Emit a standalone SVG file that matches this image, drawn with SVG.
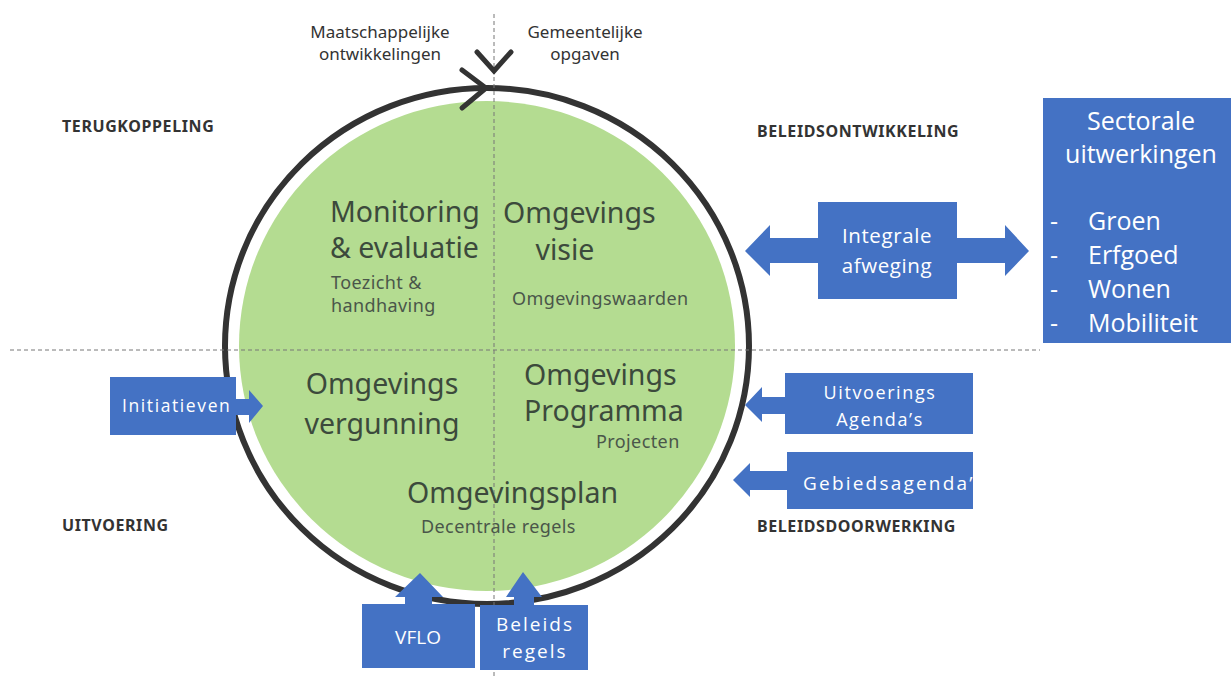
<svg xmlns="http://www.w3.org/2000/svg" width="1231" height="677" viewBox="0 0 1231 677">
<style>
.dash{stroke:#777;stroke-width:1;stroke-dasharray:4 3;fill:none}
.big{font-family:"Noto Sans","DejaVu Sans",sans-serif;font-size:28.5px;fill:#3c4a3c}
.small{font-family:"Noto Sans","DejaVu Sans",sans-serif;font-size:18px;letter-spacing:0.4px;fill:#4a564a}
.top{font-family:"Noto Sans","DejaVu Sans",sans-serif;font-size:17px;fill:#333}
.sec{font-family:"Noto Sans","DejaVu Sans",sans-serif;font-size:16px;font-weight:bold;letter-spacing:0.6px;fill:#333}
.blue{fill:#4472c4}
.wt{font-family:"Open Sans","Liberation Sans",sans-serif;fill:#fff;font-size:18px;letter-spacing:1.6px}
.wl{font-family:"Open Sans","Liberation Sans",sans-serif;fill:#fff;font-size:25px}
</style>
<defs>
<clipPath id="gclip"><rect x="787" y="452" width="186" height="57"/></clipPath>
</defs>
<rect width="1231" height="677" fill="#fff"/>
<g id="circle">
<ellipse cx="487" cy="346" rx="248" ry="245" fill="#b4dc91"/>
<ellipse cx="487" cy="346" rx="262" ry="258" fill="none" stroke="#333" stroke-width="6"/>
</g>
<g id="guides">
<line class="dash" x1="10" y1="350" x2="1040" y2="350"/>
<line class="dash" x1="494" y1="14" x2="494" y2="677"/>
</g>
<g id="chevrons" fill="none" stroke="#333" stroke-width="5" stroke-linecap="round" stroke-linejoin="miter">
<polyline points="462,70 486,88 462,108"/>
<polyline points="477,52 494,71 511,52"/>
</g>
<g id="labels">
<text class="top" x="380" y="38" text-anchor="middle">Maatschappelijke</text>
<text class="top" x="380" y="60" text-anchor="middle">ontwikkelingen</text>
<text class="top" x="585" y="38" text-anchor="middle">Gemeentelijke</text>
<text class="top" x="585" y="60" text-anchor="middle">opgaven</text>
<text class="sec" x="62" y="132">TERUGKOPPELING</text>
<text class="sec" x="757" y="137">BELEIDSONTWIKKELING</text>
<text class="sec" x="62" y="531">UITVOERING</text>
<text class="sec" x="757" y="532">BELEIDSDOORWERKING</text>
</g>
<g id="monitoring">
<text class="big" x="330" y="222">Monitoring</text>
<text class="big" x="330" y="258">&amp; evaluatie</text>
<text class="small" x="331" y="289">Toezicht &amp;</text>
<text class="small" x="331" y="312">handhaving</text>
</g>
<g id="visie">
<text class="big" x="503" y="223">Omgevings</text>
<text class="big" x="565" y="260" text-anchor="middle">visie</text>
<text class="small" x="512" y="305">Omgevingswaarden</text>
</g>
<g id="vergunning">
<text class="big" x="382" y="394" text-anchor="middle">Omgevings</text>
<text class="big" x="382" y="434" text-anchor="middle">vergunning</text>
</g>
<g id="programma">
<text class="big" x="524" y="385">Omgevings</text>
<text class="big" x="524" y="421">Programma</text>
<text class="small" x="596" y="448">Projecten</text>
</g>
<g id="omgevingsplan">
<text class="big" x="407" y="503">Omgevingsplan</text>
<text class="small" x="421" y="533">Decentrale regels</text>
</g>
<g id="sectorale">
<rect class="blue" x="1043" y="98" width="188" height="245"/>
<text class="wl" x="1141" y="130" text-anchor="middle">Sectorale</text>
<text class="wl" x="1141" y="163" text-anchor="middle">uitwerkingen</text>
<text class="wl" x="1050" y="230">-</text><text class="wl" x="1088" y="230">Groen</text>
<text class="wl" x="1050" y="264">-</text><text class="wl" x="1088" y="264">Erfgoed</text>
<text class="wl" x="1050" y="298">-</text><text class="wl" x="1088" y="298">Wonen</text>
<text class="wl" x="1050" y="332">-</text><text class="wl" x="1088" y="332">Mobiliteit</text>
</g>
<g id="integrale">
<polygon class="blue" points="745,251 770,225 770,238 818,238 818,202 957,202 957,238 1005,238 1005,225 1029,251 1005,276 1005,263 957,263 957,299 818,299 818,263 770,263 770,276"/>
<text class="wt" x="887" y="243" text-anchor="middle" style="letter-spacing:0.6px;font-size:20.5px">Integrale</text>
<text class="wt" x="887" y="273" text-anchor="middle" style="letter-spacing:0.6px;font-size:20.5px">afweging</text>
</g>
<g id="initiatieven">
<polygon class="blue" points="110,377 236,377 236,399 249,399 249,390 263,406 249,423 249,415 236,415 236,435 110,435"/>
<text class="wt" x="122" y="412" style="font-size:17.5px">Initiatieven</text>
</g>
<g id="uitvoerings">
<polygon class="blue" points="785,373 973,373 973,434 785,434 785,414 762,414 762,422 745,405 762,387 762,397 785,397"/>
<text class="wt" x="880" y="399" text-anchor="middle">Uitvoerings</text>
<text class="wt" x="880" y="426" text-anchor="middle">Agenda’s</text>
</g>
<g id="gebiedsagenda">
<polygon class="blue" points="787,452 973,452 973,509 787,509 787,490 750,490 750,497 733,480 750,463 750,471 787,471"/>
<text class="wt" x="803" y="490" clip-path="url(#gclip)" style="font-size:19px;letter-spacing:2.2px">Gebiedsagenda’s</text>
</g>
<g id="vflo">
<polygon class="blue" points="362,604 405,604 405,597 395,597 420,573 443,597 432,597 432,604 475,604 475,668 362,668"/>
<text class="wt" x="418" y="644" text-anchor="middle" style="letter-spacing:0;font-size:19px">VFLO</text>
</g>
<g id="beleidsregels">
<polygon class="blue" points="480,605 514,605 514,597 506,597 523,572 542,597 534,597 534,605 588,605 588,670 480,670"/>
<text class="wt" x="535" y="631" text-anchor="middle" style="letter-spacing:2px;font-size:19px">Beleids</text>
<text class="wt" x="535" y="658" text-anchor="middle" style="letter-spacing:2px;font-size:19px">regels</text>
</g>
</svg>
